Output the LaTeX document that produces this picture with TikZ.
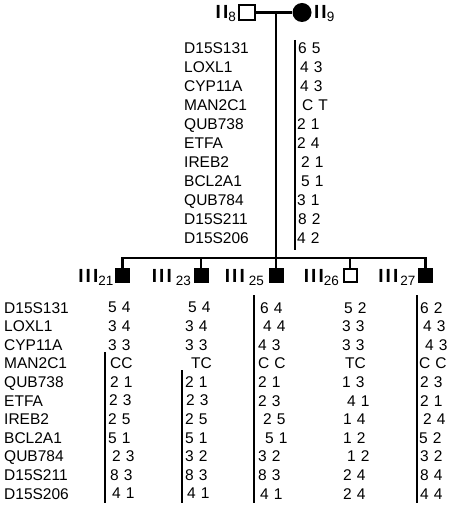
\documentclass[tikz,border=0pt]{standalone}
\usepackage{fontspec}
\setmainfont{Liberation Sans}[WordSpace=1.15]
\usetikzlibrary{positioning}
\newcommand{\pedid}[2]{{\fontsize{19}{19}\selectfont\bfseries #1}\raisebox{-3pt}{\fontsize{13.5}{13.5}\selectfont #2}}
\newcommand{\gII}{I\kern2pt I}
\newcommand{\gIII}{I\kern2pt I\kern2pt I}
\newcommand{\ind}[1]{\hspace*{#1pt}}

\begin{document}
\begin{tikzpicture}[
  x=1pt, y=-1pt,
  font=\fontsize{15.5}{19}\selectfont,
  line/.style={line width=2.4pt},
  male/.style={draw, line width=2pt, minimum size=13pt, inner sep=0pt},
  affected/.style={male, fill=black},
  female/.style={circle, fill=black, minimum size=19pt, inner sep=0pt},
  mk/.style={anchor=north west, inner sep=0pt, align=left},
  mklow/.style={mk, font=\fontsize{15.5}{18.6}\selectfont},
  hap/.style={line width=2pt},
  pedlab/.style={anchor=base east, inner sep=0pt},
]
  \path[fill=white] (0,0) rectangle (450,510);
  % generation II
  \node[male, minimum size=15.5pt] (ii8) at (247,12.5) {};
  \node[female] (ii9) at (302,12.5) {};
  \node[pedlab] (l8) at (236,18.5) {\pedid{\gII}{8}};
  \node[pedlab, anchor=base west] (l9) at (314,18.5) {\pedid{\gII}{9}};
  \draw[line] (ii8.east) -- (ii9.west);
  \coordinate (mate) at (276,12.5);
  \coordinate (sib) at (276,258);
  \draw[line] (mate) -- (sib);
  % generation III
  \node[affected] (iii21) at (122.5,275.5) {};
  \node[affected] (iii23) at (201,275.5) {};
  \node[affected] (iii25) at (276,275.5) {};
  \node[male] (iii26) at (350,275.5) {};
  \node[affected] (iii27) at (425.5,275.5) {};
  \draw[line] (iii21.north) |- (sib) -| (iii27.north);
  \draw[line] (iii23.north) -- (iii23.north |- sib);
  \draw[line] (iii25.north) -- (sib);
  \draw[line] (iii26.north) -- (iii26.north |- sib);
  \node[pedlab] (l21) at (113.5,282) {\pedid{\gIII}{21}};
  \node[pedlab] (l23) at (191,282) {\pedid{\gIII}{\kern4pt 23}};
  \node[pedlab] (l25) at (264,282) {\pedid{\gIII}{\kern4pt 25}};
  \node[pedlab] (l26) at (339,282) {\pedid{\gIII}{26}};
  \node[pedlab] (l27) at (415.5,282) {\pedid{\gIII}{\kern2pt 27}};
  % haplotypes of II-9
  \node[mk] (mktop) at (184,42.9) {D15S131\\LOXL1\\CYP11A\\MAN2C1\\QUB738\\ETFA\\IREB2\\BCL2A1\\QUB784\\D15S211\\D15S206};
  \node[mk] (hap9) at (297,42.9) {\ind{1}6 5\\\ind{3}4 3\\\ind{3}4 3\\\ind{5}C T\\2 1\\2 4\\\ind{4}2 1\\\ind{4}5 1\\3 1\\\ind{1}8 2\\4 2};
  \draw[hap] (294.5,40) -- (294.5,250);
  % haplotypes of generation III
  \node[mklow] (mklow) at (4,302) {D15S131\\LOXL1\\CYP11A\\MAN2C1\\QUB738\\ETFA\\IREB2\\BCL2A1\\QUB784\\D15S211\\D15S206};
  \node[mklow] (hap21) at (108,302) {5 4\\3 4\\3 3\\\ind{2}CC\\\ind{2}2 1\\\ind{1}2 3\\2 5\\5 1\\\ind{4}2 3\\\ind{2}8 3\\\ind{4}4 1};
  \node[mklow] (hap23) at (185,302) {\ind{3}5 4\\3 4\\3 3\\\ind{6}TC\\2 1\\\ind{1}2 3\\2 5\\5 1\\3 2\\8 3\\\ind{2}4 1};
  \node[mklow] (hap25) at (258,302) {\ind{2}6 4\\\ind{5}4 4\\4 3\\C C\\2 1\\2 3\\\ind{5}2 5\\\ind{7}5 1\\3 2\\8 3\\\ind{2}4 1};
  \node[mklow] (hap26) at (342,302) {\ind{2}5 2\\3 3\\3 3\\\ind{3}TC\\1 3\\\ind{5}4 1\\\ind{1}1 4\\\ind{1}1 2\\\ind{5}1 2\\\ind{1}2 4\\\ind{1}2 4};
  \node[mklow] (hap27) at (419,302) {\ind{1}6 2\\\ind{4}4 3\\\ind{6}4 3\\C C\\\ind{1}2 3\\\ind{1}2 1\\\ind{4}2 4\\5 2\\\ind{1}3 2\\\ind{1}8 4\\\ind{1}4 4};
  \draw[hap] (104.5,352) -- (104.5,503);
  \draw[hap] (182,370) -- (182,503);
  \draw[hap] (253.5,295) -- (253.5,503);
  \draw[hap] (417,295) -- (417,503);
\end{tikzpicture}
\end{document}
